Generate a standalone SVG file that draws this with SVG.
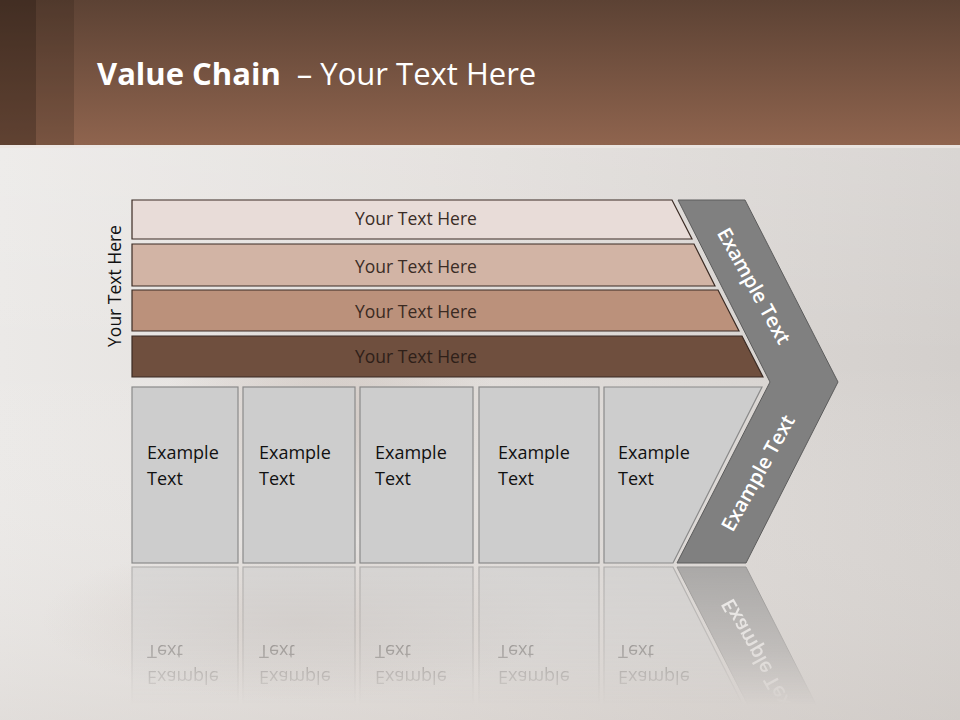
<svg xmlns="http://www.w3.org/2000/svg" xmlns:xlink="http://www.w3.org/1999/xlink" width="960" height="720" viewBox="0 0 960 720">
  <defs>
    <linearGradient id="bgH" x1="0" y1="0" x2="1" y2="0">
      <stop offset="0" stop-color="#ebe9e7"/>
      <stop offset="0.45" stop-color="#e2dedb"/>
      <stop offset="1" stop-color="#d3cfcc"/>
    </linearGradient>
    <linearGradient id="bgV" x1="0" y1="0" x2="0" y2="1">
      <stop offset="0" stop-color="#ffffff" stop-opacity="0.25"/>
      <stop offset="0.5" stop-color="#ffffff" stop-opacity="0"/>
      <stop offset="1" stop-color="#cfc8c3" stop-opacity="0.35"/>
    </linearGradient>
    <radialGradient id="blob" cx="0.5" cy="0.5" r="0.5">
      <stop offset="0" stop-color="#a08a7e" stop-opacity="0.28"/>
      <stop offset="1" stop-color="#a08a7e" stop-opacity="0"/>
    </radialGradient>
    <linearGradient id="hdr" x1="0" y1="0" x2="0" y2="1">
      <stop offset="0" stop-color="#5c4234"/>
      <stop offset="1" stop-color="#8f644e"/>
    </linearGradient>
    <linearGradient id="reflFade" x1="0" y1="565" x2="0" y2="705" gradientUnits="userSpaceOnUse">
      <stop offset="0" stop-color="#ffffff" stop-opacity="0.55"/>
      <stop offset="0.6" stop-color="#ffffff" stop-opacity="0.28"/>
      <stop offset="1" stop-color="#ffffff" stop-opacity="0"/>
    </linearGradient>
    <mask id="reflMask" maskUnits="userSpaceOnUse" x="0" y="560" width="960" height="160">
      <rect x="0" y="565" width="960" height="155" fill="url(#reflFade)"/>
    </mask>
    <style>
      .bar { stroke: #3b2b24; stroke-width: 1.2; }
      .barText { font-family: "Open Sans", "DejaVu Sans", sans-serif; font-size: 17.5px; text-anchor: middle; }
      .box { fill: #cdcdcd; stroke: #8a8a8a; stroke-width: 1.2; }
      .boxText { font-family: "Open Sans", "Liberation Sans", sans-serif; font-size: 18px; fill: #111111; }
      .chev { fill: #808080; stroke: #5c5c5c; stroke-width: 1; }
      .chevText { font-family: "Open Sans", "Liberation Sans", sans-serif; font-size: 20px; font-weight: 600; fill: #ffffff; text-anchor: middle; }
    </style>
  </defs>

  <!-- background -->
  <rect x="0" y="0" width="960" height="720" fill="url(#bgH)"/>
  <rect x="0" y="0" width="960" height="720" fill="url(#bgV)"/>
  <ellipse cx="330" cy="420" rx="170" ry="120" fill="url(#blob)"/>
  <ellipse cx="300" cy="620" rx="260" ry="80" fill="url(#blob)" opacity="0.6"/>

  <!-- header -->
  <g id="header">
    <rect x="0" y="0" width="960" height="145" fill="url(#hdr)"/>
    <rect x="0" y="0" width="36" height="145" fill="#1e120c" opacity="0.42"/>
    <rect x="36" y="0" width="38" height="145" fill="#2a1a12" opacity="0.22"/>
    <rect x="0" y="145" width="960" height="3" fill="#ece6e2" opacity="0.8"/>
    <text x="97" y="85" font-family="'Open Sans', 'Liberation Sans', sans-serif" font-size="31" fill="#ffffff"><tspan font-weight="700">Value Chain</tspan><tspan dx="8"> – Your Text Here</tspan></text>
  </g>

  <!-- vertical label -->
  <g id="side-label">
    <text transform="translate(121,286) rotate(-90)" font-family="'Open Sans', 'DejaVu Sans', sans-serif" font-size="17.5" fill="#111111" text-anchor="middle">Your Text Here</text>
  </g>

  <!-- bars -->
  <g id="bar1">
    <polygon class="bar" points="132,200 672,200 692,239 132,239" fill="#e8dcd8"/>
    <text class="barText" x="416" y="225" fill="#3a2c26">Your Text Here</text>
  </g>
  <g id="bar2">
    <polygon class="bar" points="132,244 694,244 715,286 132,286" fill="#d2b4a5"/>
    <text class="barText" x="416" y="273" fill="#3a2c26">Your Text Here</text>
  </g>
  <g id="bar3">
    <polygon class="bar" points="132,290 718,290 739,331 132,331" fill="#bb917b"/>
    <text class="barText" x="416" y="318" fill="#3a2a22">Your Text Here</text>
  </g>
  <g id="bar4">
    <polygon class="bar" points="132,336 742,336 763,377 132,377" fill="#6f4f3e"/>
    <text class="barText" x="416" y="363" fill="#2e2019">Your Text Here</text>
  </g>

  <!-- bottom part: boxes and chevron -->
  <g id="lower">
    <g id="chevron">
      <polygon class="chev" points="678,200 745,200 838,382 746,563 677,563 770,382"/>
      <text class="chevText" transform="translate(754,286) rotate(61)" dy="7">Example Text</text>
      <text class="chevText" transform="translate(758,473) rotate(-61)" dy="7">Example Text</text>
    </g>
    <g id="box1">
      <rect class="box" x="132" y="387" width="106" height="176"/>
      <text class="boxText" x="147" y="459">Example</text>
      <text class="boxText" x="147" y="485">Text</text>
    </g>
    <g id="box2">
      <rect class="box" x="243" y="387" width="112" height="176"/>
      <text class="boxText" x="259" y="459">Example</text>
      <text class="boxText" x="259" y="485">Text</text>
    </g>
    <g id="box3">
      <rect class="box" x="360" y="387" width="113" height="176"/>
      <text class="boxText" x="375" y="459">Example</text>
      <text class="boxText" x="375" y="485">Text</text>
    </g>
    <g id="box4">
      <rect class="box" x="479" y="387" width="120" height="176"/>
      <text class="boxText" x="498" y="459">Example</text>
      <text class="boxText" x="498" y="485">Text</text>
    </g>
    <g id="box5">
      <polygon class="box" points="604,387 762,387 673,563 604,563"/>
      <text class="boxText" x="618" y="459">Example</text>
      <text class="boxText" x="618" y="485">Text</text>
    </g>
  </g>

  <!-- reflection -->
  <g id="reflection" mask="url(#reflMask)">
    <use xlink:href="#lower" href="#lower" transform="matrix(1,0,0,-1,0,1130)"/>
  </g>
</svg>
